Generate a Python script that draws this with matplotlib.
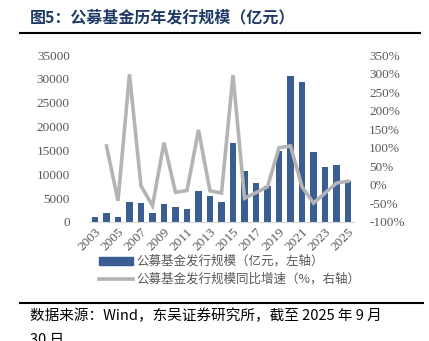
import numpy as np
import matplotlib.pyplot as plt
from matplotlib.lines import Line2D
from matplotlib.patches import Patch

plt.rcParams['font.family'] = ['Noto Sans CJK SC', 'DejaVu Sans']

years = list(range(2003, 2026))
# 发行规模（亿元）
issue = [1000, 1850, 1100, 4150, 4000, 1850, 3850, 3150, 2700, 6550, 5500,
         4250, 16550, 10750, 8150, 7450, 14950, 30700, 29300, 14700, 11450,
         11950, 8650]
# 同比增速（%），2003年无数据
growth = [np.nan, 105, -43, 298, -3, -56, 114, -20, -15, 148, -16,
          -22, 296, -36, -21, -5, 100, 105, -5, -49, -22, 5, 10]

bar_color = '#3a5e91'
line_color = '#b4b4b4'
tick_color = '#595959'
serif = 'Liberation Serif'

fig = plt.figure(figsize=(4.29, 3.41), dpi=100)
ax = fig.add_axes([89.25 / 429, 1 - 222 / 341, 264.5 / 429, 167 / 341])
ax2 = ax.twinx()

x = np.arange(len(years))
ax.bar(x, issue, width=0.55, color=bar_color, zorder=2)
ax2.plot(x, growth, color=line_color, lw=2.6, solid_joinstyle='miter', zorder=3)

ax.set_xlim(-0.5, len(years) - 0.5)
ax.set_ylim(0, 35000)
ax.set_yticks(np.arange(0, 35001, 5000))
ax2.set_ylim(-100, 350)
ax2.set_yticks(np.arange(-100, 351, 50))
ax2.set_yticklabels([f'{v}%' for v in range(-100, 351, 50)])

ax.set_xticks(x[::2])
ax.set_xticklabels([str(y) for y in years[::2]], rotation=45, ha='right',
                   rotation_mode='anchor')

for a in (ax, ax2):
    for s in a.spines.values():
        s.set_visible(False)
    a.tick_params(length=0, colors=tick_color, labelsize=9.5)
    for lab in a.get_xticklabels() + a.get_yticklabels():
        lab.set_fontfamily(serif)
ax.spines['bottom'].set_visible(True)
ax.spines['bottom'].set_color('#d9d9d9')
ax.tick_params(axis='y', pad=14)
ax.tick_params(axis='x', pad=3)
ax2.tick_params(axis='y', pad=11)

handles = [Patch(color=bar_color), Line2D([], [], color=line_color, lw=2.6)]
labels = ['公募基金发行规模（亿元，左轴）', '公募基金发行规模同比增速（%，右轴）']
fig.legend(handles, labels, loc='upper left', bbox_to_anchor=(99 / 429, 1 - 255 / 341),
           frameon=False, fontsize=9, handlelength=2.7, handleheight=0.6,
           handletextpad=0.25, labelspacing=0.4, labelcolor=tick_color,
           borderaxespad=0, borderpad=0)

fig.text(30 / 429, 1 - 17 / 341, '图5：公募基金历年发行规模（亿元）', fontsize=11.5,
         fontweight='bold', color='#1f3a64', va='center', ha='left')
fig.add_artist(Line2D([20 / 429, 420 / 429], [1 - 33 / 341] * 2, color='black', lw=1.5))
fig.add_artist(Line2D([20 / 429, 423 / 429], [1 - 303 / 341] * 2, color='black', lw=1.5))
fig.text(30 / 429, 1 - 316 / 341, '数据来源：Wind，东吴证券研究所，截至 2025 年 9 月',
         fontsize=10.5, color='black', va='center', ha='left')
fig.text(30 / 429, 1 - 340 / 341, '30 日', fontsize=10.5, color='black',
         va='center', ha='left')

fig.savefig('out.png', dpi=100)
